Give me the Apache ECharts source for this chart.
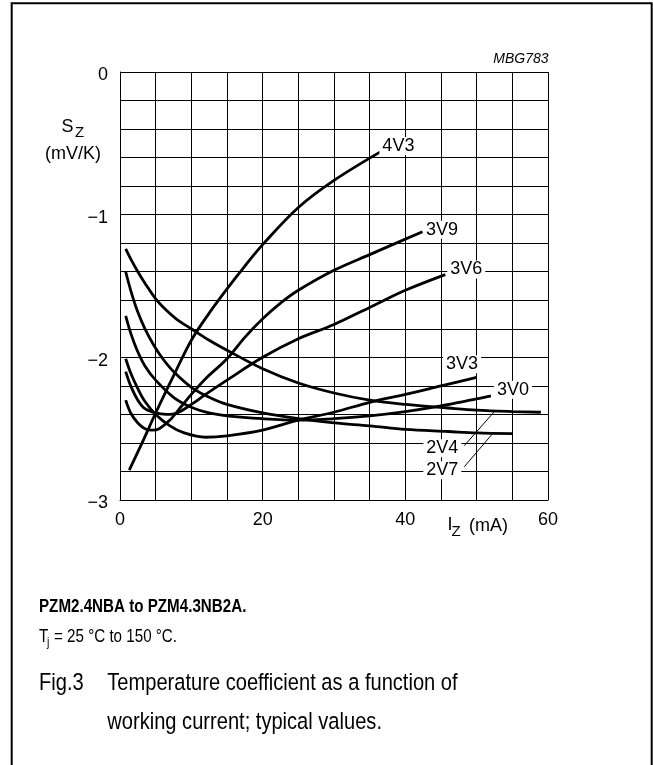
<!DOCTYPE html>
<html><head><meta charset="utf-8">
<script src="https://cdn.jsdelivr.net/npm/echarts@6/dist/echarts.min.js"></script>
<style>html,body{margin:0;padding:0;background:#fff}#c{width:653px;height:765px}</style>
</head><body><div id="c"></div>
<script>
// ---- data ----
const seriesNames = ['2V4', '2V7', '3V0', '3V3', '3V6', '3V9', '4V3'];
const d2V4 = [[0.8,-1.24],[1.5,-1.31],[2.5,-1.40],[3.5,-1.48],[5,-1.59],[6.5,-1.67],[8,-1.735],[10,-1.80],[12.5,-1.88],[15,-1.95],[20,-2.08],[25,-2.18],[30,-2.25],[35,-2.30],[40,-2.33],[46,-2.355],[50,-2.37],[55,-2.38],[59,-2.385]];
const d2V7 = [[0.8,-1.40],[1.5,-1.53],[2.4,-1.67],[3.5,-1.80],[4.8,-1.92],[6,-2.01],[7.5,-2.10],[10,-2.21],[12.5,-2.28],[15,-2.33],[20,-2.39],[25,-2.43],[30,-2.46],[35,-2.48],[40,-2.505],[46,-2.52],[50,-2.53],[55,-2.535]];
const d3V0 = [[0.8,-1.71],[1.5,-1.83],[2.4,-1.95],[3.5,-2.06],[5,-2.16],[7.5,-2.28],[10,-2.35],[12.5,-2.39],[15,-2.41],[20,-2.43],[25,-2.44],[30,-2.43],[35,-2.41],[40,-2.38],[45,-2.34],[52,-2.27]];
const d3V3 = [[0.8,-2.01],[1.5,-2.11],[2.5,-2.22],[3.5,-2.31],[5,-2.40],[7,-2.48],[9,-2.53],[12,-2.56],[15,-2.55],[20,-2.51],[25,-2.44],[30,-2.385],[35,-2.315],[40,-2.26],[45,-2.20],[50,-2.14]];
const d3V6 = [[0.8,-2.10],[1.5,-2.20],[2.5,-2.30],[3.5,-2.36],[5,-2.39],[6.5,-2.40],[8,-2.39],[10,-2.33],[12,-2.26],[15,-2.16],[20,-2.00],[25,-1.87],[30,-1.77],[35,-1.65],[40,-1.53],[45.6,-1.42]];
const d3V9 = [[0.8,-2.30],[1.5,-2.39],[2.5,-2.46],[3.5,-2.50],[4.5,-2.51],[5.5,-2.50],[7,-2.44],[8.5,-2.35],[10,-2.26],[12,-2.15],[15,-2.01],[17.5,-1.86],[20,-1.73],[22.5,-1.62],[25,-1.53],[30,-1.39],[35,-1.28],[42.4,-1.12]];
const d4V3 = [[1.3,-2.79],[3,-2.61],[5,-2.39],[7.5,-2.13],[10,-1.88],[12.5,-1.69],[15,-1.52],[17.5,-1.36],[20,-1.21],[25,-0.95],[30,-0.76],[36.5,-0.56]];
const seriesData = [d2V4, d2V7, d3V0, d3V3, d3V6, d3V9, d4V3];
// leader lines for the 2V4 / 2V7 labels (annotation, data coords)
const leader2V4 = [[52.47,-2.381],[48.27,-2.619]];
const leader2V7 = [[52.23,-2.535],[48.27,-2.767]];
const xTickLabels = [0, 20, 40, 60];
const yTickLabels = [0, -1, -2, -3];

// ---- styles ----
const FF = '"Liberation Sans", Arial, Helvetica, sans-serif';
const endLabelOffsets = {'3V0':[3,-6.2], '3V3':[-33.6,-13], '3V6':[2,-5.2], '3V9':[0.5,-2], '4V3':[-1,-6]};

const chart = echarts.init(document.getElementById('c'), null, {renderer:'canvas'});

const labelStyle = (n, off) => ({show:true, formatter: n, position:'right', distance:0, offset: off,
  color:'#000', fontSize:18, fontFamily:FF, backgroundColor:'#fff', padding:[0,3]});

const series = seriesNames.map((n, i) => {
  const s = {
    name: n, type: 'line', data: seriesData[i], symbol: 'none', smooth: 0.35,
    lineStyle: {color:'#000', width: 2.8}, z: 3, silent: true
  };
  if (endLabelOffsets[n]) s.endLabel = labelStyle(n, endLabelOffsets[n]);
  return s;
});
[['2V4', leader2V4, [-41, 2.5]], ['2V7', leader2V7, [-41, 3.5]]].forEach(([n, d, off]) => {
  series.push({
    name: n + ' leader', type:'line', data: d, symbol:'none', lineStyle:{color:'#000', width:1}, z:3, silent:true,
    endLabel: labelStyle(n, off)
  });
});

const txt = (x, y, text, size, extra) => Object.assign({
  type:'text', x, y, z: 10,
  style: Object.assign({text, fontSize:size, fontFamily:FF, fill:'#000', verticalAlign:'middle', textVerticalAlign:'middle'}, (extra && extra.style) || {})
}, extra && extra.el || {});

chart.setOption({
  animation: false,
  backgroundColor: '#fff',
  grid: {left: 120, top: 72, width: 428, height: 428, show: false},
  xAxis: {
    type:'value', min:0, max:60, interval:5,
    axisLine:{show:true, onZero:false, lineStyle:{color:'#000', width:1}},
    axisTick:{show:false},
    splitLine:{show:true, lineStyle:{color:'#000', width:1}},
    axisLabel:{color:'#000', fontSize:18, fontFamily:FF, margin:11,
      formatter: v => xTickLabels.some(t => Math.abs(t - v) < 1e-6) ? String(Math.round(v)) : ''}
  },
  yAxis: {
    type:'value', min:-3, max:0, interval:0.2,
    axisLine:{show:true, onZero:false, lineStyle:{color:'#000', width:1}},
    axisTick:{show:false},
    splitLine:{show:true, lineStyle:{color:'#000', width:1}},
    axisLabel:{color:'#000', fontSize:18, fontFamily:FF, margin:12,
      rich: {d: {fontSize:18, fontFamily:FF, color:'#000', padding:[7,0,0,0]}},
      formatter: v => {
        const t = yTickLabels.find(t => Math.abs(t - v) < 1e-6);
        if (t === undefined) return '';
        return '{d|' + (t === 0 ? '0' : '\u2212' + Math.abs(t)) + '}';
      }}
  },
  series,
  graphic: [
    {type:'rect', shape:{x:11.7, y:3.2, width:640, height:800}, style:{fill:'none', stroke:'#000', lineWidth:2}, z:1, silent:true},
    txt(548.5, 59, 'MBG783', 14, {style:{fontStyle:'italic', align:'right', textAlign:'right'}}),
    txt(61.5, 127, 'S', 18),
    txt(75, 133, 'Z', 15),
    txt(45, 154.5, '(mV/K)', 18),
    txt(447.5, 525.5, 'I', 18),
    txt(451.5, 532, 'Z', 15),
    txt(469, 526, '(mA)', 18),
    txt(39, 607, 'PZM2.4NBA to PZM4.3NB2A.', 18.5, {style:{fontWeight:'bold'}, el:{scaleX:0.82}}),
    txt(39, 637, 'T', 18.5, {el:{scaleX:0.82}}),
    txt(47, 642, 'j', 13, {el:{scaleX:0.82}}),
    txt(54, 637, '= 25 \u00B0C to 150 \u00B0C.', 18.5, {el:{scaleX:0.82}}),
    txt(39, 683, 'Fig.3', 24.5, {el:{scaleX:0.82}}),
    txt(107.3, 683, 'Temperature coefficient as a function of', 24.5, {el:{scaleX:0.82}}),
    txt(107.3, 722, 'working current; typical values.', 24.5, {el:{scaleX:0.82}})
  ]
});
</script></body></html>
